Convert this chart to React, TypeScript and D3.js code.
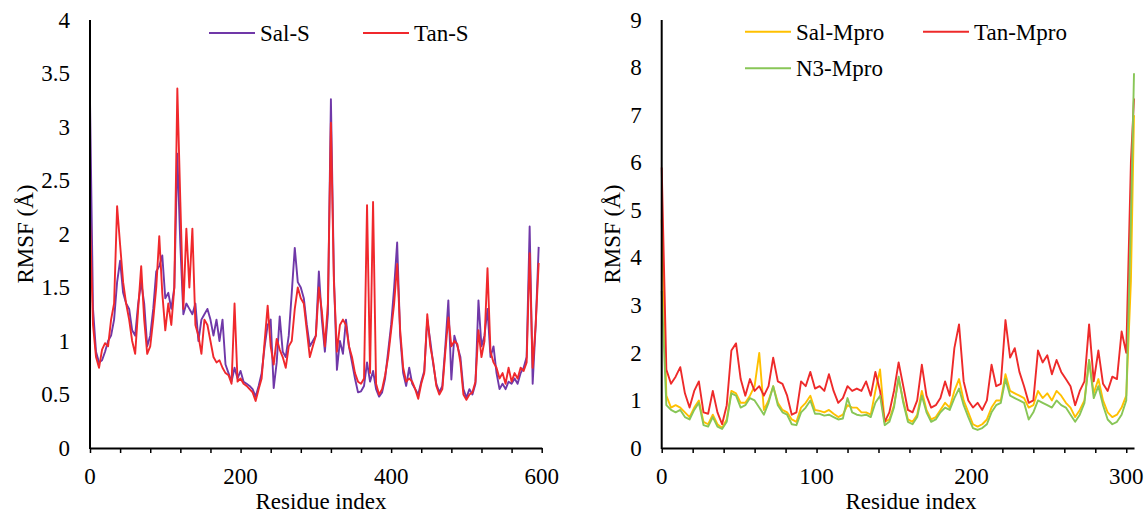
import { useEffect, useRef } from "react";
import * as d3 from "d3";

// ---- S protein panel (residue step of 4) ----
const sStep = 4;
const salS = [
  3.25, 1.3, 0.9, 0.8, 0.82, 0.9, 1.0, 1.05, 1.2, 1.55,
  1.75, 1.45, 1.35, 1.3, 1.1, 1.05, 1.35, 1.55, 1.35, 0.95,
  1.05, 1.3, 1.65, 1.7, 1.8, 1.4, 1.45, 1.3, 1.5, 2.75,
  1.9, 1.25, 1.35, 1.3, 1.25, 1.35, 1.0, 1.2, 1.25, 1.3,
  1.2, 1.05, 1.2, 1.0, 1.2, 0.78, 0.7, 0.62, 0.75, 0.65,
  0.72, 0.62, 0.6, 0.58, 0.55, 0.48, 0.58, 0.7, 0.95, 1.15,
  1.2, 0.56, 0.8, 1.23, 0.9, 0.85, 1.05, 1.45, 1.87, 1.55,
  1.5, 1.4, 1.15, 0.95, 1.0, 1.05, 1.65, 1.2, 0.9, 1.25,
  3.26, 1.6, 0.73, 1.0, 0.88, 1.2, 0.95, 0.8, 0.65, 0.52,
  0.53, 0.58, 0.8, 0.62, 0.72, 0.55, 0.48, 0.52, 0.65, 0.9,
  1.15, 1.5, 1.92, 1.05, 0.7, 0.58, 0.75, 0.6, 0.55, 0.5,
  0.62, 0.72, 1.2, 1.0, 0.78, 0.6, 0.52, 0.58, 0.95, 1.38,
  0.64, 1.05, 0.95, 0.85, 0.55, 0.47, 0.55, 0.5, 0.6, 1.38,
  0.95, 1.05, 1.3, 0.85, 0.95, 0.7, 0.55, 0.6, 0.55, 0.62,
  0.6, 0.65, 0.6, 0.7, 0.75, 0.85, 2.07, 0.6, 1.15, 1.88,
];
const tanS = [
  2.15, 1.15, 0.85, 0.75, 0.92, 0.98, 0.95, 1.2, 1.35, 2.26,
  1.9, 1.55, 1.35, 1.2, 1.0, 0.88, 1.3, 1.7, 1.2, 0.88,
  0.95, 1.2, 1.5, 1.98, 1.45, 1.1, 1.35, 1.15, 1.5, 3.36,
  2.3, 1.3, 2.05, 1.5, 2.05, 1.15, 1.05, 0.88, 1.2, 1.15,
  1.0, 0.85, 0.8, 0.82, 0.75, 0.7, 0.68, 0.6, 1.35, 0.62,
  0.65, 0.6, 0.58, 0.55, 0.52, 0.44, 0.55, 0.65, 1.0, 1.33,
  0.95, 0.78, 1.02, 0.92, 0.85, 0.75, 0.95, 1.0, 1.3, 1.5,
  1.4, 1.35, 1.1, 0.85, 0.95, 1.05, 1.5, 1.28, 0.95, 1.35,
  3.04, 1.55, 0.9, 1.15, 1.2, 1.15, 0.95, 0.85, 0.7, 0.62,
  0.6, 0.65, 2.27, 0.7, 2.3, 0.6, 0.5, 0.55, 0.68, 0.85,
  1.1, 1.35, 1.72, 1.1, 0.75, 0.62, 0.65, 0.62, 0.55, 0.46,
  0.6, 0.7, 1.25, 0.95, 0.8, 0.58, 0.5, 0.55, 0.9, 1.22,
  0.95, 1.0, 0.97, 0.8, 0.5, 0.45, 0.5, 0.52, 0.62, 1.1,
  0.85, 1.0, 1.68, 0.9, 0.8, 0.75, 0.65, 0.7, 0.6, 0.75,
  0.62, 0.7, 0.65, 0.75, 0.72, 0.8, 1.82, 0.75, 1.15, 1.73,
];
const sYTicks = [0, 0.5, 1, 1.5, 2, 2.5, 3, 3.5, 4];
const sXTicks = [0, 200, 400, 600];

// ---- Mpro panel (residue step of 3, last residue 305) ----
const mproResidues = d3.range(0, 304, 3).concat([305]);
const salMpro = [
  4.8, 1.1, 0.85, 0.9, 0.85, 0.75, 0.65, 0.85, 1.0, 0.55,
  0.5, 0.7, 0.5, 0.42, 0.6, 1.2, 1.15, 0.95, 0.95, 1.1,
  1.3, 2.0, 0.8, 1.0, 1.3, 0.95, 0.8, 0.75, 0.6, 0.55,
  0.85, 0.95, 1.1, 0.8, 0.78, 0.75, 0.8, 0.72, 0.65, 0.7,
  0.9, 0.85, 0.85, 0.75, 0.75, 0.7, 1.2, 1.65, 0.55, 0.6,
  0.9, 1.45, 1.0, 0.6, 0.55, 0.7, 1.2, 0.8, 0.6, 0.65,
  0.8, 0.95, 0.85, 1.2, 1.45, 1.0, 0.75, 0.5, 0.45, 0.5,
  0.6, 0.85, 1.0, 1.0, 1.55, 1.2, 1.15, 1.1, 1.05, 0.85,
  0.9, 1.2, 1.05, 1.15, 1.0, 1.2, 1.1, 0.95, 0.85, 0.65,
  0.8, 1.0, 1.85, 1.15, 1.45, 1.0, 0.75, 0.65, 0.7, 0.85,
  1.1, 3.5, 7.0,
];
const tanMpro = [
  5.9, 1.65, 1.35, 1.5, 1.7, 1.15, 0.85, 1.2, 1.4, 0.75,
  0.72, 1.2, 0.75, 0.5, 0.9, 2.05, 2.2, 1.45, 1.1, 1.45,
  1.2, 1.3, 1.1, 1.3, 1.9, 1.4, 1.35, 1.1, 0.7, 0.75,
  1.4, 1.3, 1.6, 1.25, 1.3, 1.2, 1.55, 1.2, 0.95, 1.05,
  1.3, 1.2, 1.25, 1.2, 1.4, 1.1, 1.6, 1.2, 0.55, 0.75,
  1.2, 1.8, 1.3, 0.8, 0.75, 1.0, 1.75, 1.1, 0.85, 0.9,
  1.05, 1.4, 1.1, 2.1, 2.6, 1.4, 1.0, 0.85, 0.95, 0.8,
  1.0, 1.75, 1.3, 1.35, 2.69, 1.9, 2.1, 1.6, 1.3, 0.95,
  1.0, 2.05, 1.8, 1.95, 1.55, 1.85, 1.6, 1.45, 1.3, 0.9,
  1.2, 1.4, 2.6, 1.4, 2.05, 1.35, 1.2, 1.5, 1.45, 2.45,
  2.0, 6.0, 7.35,
];
const n3Mpro = [
  3.3, 0.9, 0.8, 0.75, 0.8, 0.65, 0.6, 0.8, 0.95, 0.48,
  0.45, 0.65, 0.45, 0.4, 0.55, 1.15, 1.1, 0.85, 0.9, 1.05,
  1.0, 0.85, 0.7, 0.95, 1.3, 0.9, 0.75, 0.7, 0.5, 0.48,
  0.75, 0.85, 1.0, 0.72, 0.72, 0.68, 0.7, 0.65, 0.6, 0.62,
  1.05, 0.75, 0.7, 0.68, 0.7, 0.65, 0.95, 1.1, 0.48, 0.55,
  0.85, 1.5, 0.95, 0.55, 0.5, 0.65, 1.1, 0.75, 0.55, 0.6,
  0.75, 0.85, 0.8, 1.05, 1.25, 0.9, 0.65, 0.42, 0.38, 0.42,
  0.5, 0.75, 0.9, 0.95, 1.45, 1.1, 1.05, 1.0, 0.95, 0.6,
  0.75, 1.0, 0.95, 0.9, 0.85, 1.0, 0.9, 0.85, 0.7, 0.55,
  0.7, 0.95, 1.85, 1.05, 1.3, 0.9, 0.6, 0.5, 0.55, 0.7,
  1.0, 4.8, 7.88,
];
const mYTicks = [0, 1, 2, 3, 4, 5, 6, 7, 8, 9];
const mXTicks = [0, 100, 200, 300];

const FONT = "Liberation Serif, DejaVu Serif, serif";

export default function App() {
  const svgRef = useRef(null);

  useEffect(() => {
    const svg = d3.select(svgRef.current);
    svg.selectAll("*").remove();

    function drawPanel(cfg) {
      const x = d3.scaleLinear().domain(cfg.xDomain).range(cfg.xRange);
      const y = d3.scaleLinear().domain(cfg.yDomain).range([448, 20]);
      const g = svg.append("g").style("font-family", FONT);

      // lines
      const line = d3.line()
        .x((d) => x(d[0]))
        .y((d) => y(d[1]));
      cfg.series.forEach((s) => {
        g.append("path")
          .datum(s.xs.map((r, i) => [r, s.values[i]]))
          .attr("fill", "none")
          .attr("stroke", s.color)
          .attr("stroke-width", 1.9)
          .attr("stroke-linejoin", "round")
          .attr("d", line);
      });

      // x axis: line + outward minor ticks
      const xAxis = d3.axisBottom(x)
        .tickValues(cfg.minorTicks)
        .tickSize(5)
        .tickSizeOuter(0)
        .tickFormat(() => "");
      const xg = g.append("g").attr("transform", `translate(0,${y(0)})`).call(xAxis);
      xg.select(".domain").attr("stroke", "#000").attr("stroke-width", 2);
      xg.selectAll(".tick line").attr("stroke", "#000").attr("stroke-width", 1.5);

      // y axis line (no ticks)
      g.append("line")
        .attr("x1", x(0)).attr("x2", x(0))
        .attr("y1", y(cfg.yDomain[1])).attr("y2", y(0) + 1)
        .attr("stroke", "#000").attr("stroke-width", 2);

      g.selectAll(".ylab")
        .data(cfg.yTicks)
        .join("text")
        .attr("x", x(0) - 20)
        .attr("y", (d) => y(d) + 7.7)
        .attr("text-anchor", "end")
        .style("font-family", FONT)
        .attr("font-size", 23)
        .text((d) => String(d));

      g.selectAll(".xlab")
        .data(cfg.xTicks)
        .join("text")
        .attr("x", (d) => x(d))
        .attr("y", 484)
        .attr("text-anchor", "middle")
        .style("font-family", FONT)
        .attr("font-size", 23)
        .text((d) => String(d));

      g.append("text")
        .attr("x", cfg.xTitleX)
        .attr("y", 508.5)
        .attr("text-anchor", "middle")
        .style("font-family", FONT)
        .attr("font-size", 23)
        .text("Residue index");

      g.append("text")
        .attr("transform", `translate(${cfg.yTitleX},234) rotate(-90)`)
        .attr("dy", "0.35em")
        .attr("text-anchor", "middle")
        .style("font-family", FONT)
        .attr("font-size", 23)
        .text("RMSF (Å)");

      // legend
      cfg.legend.forEach((l) => {
        g.append("line")
          .attr("x1", l.x).attr("x2", l.x + 46)
          .attr("y1", l.y).attr("y2", l.y)
          .attr("stroke", l.color).attr("stroke-width", 2);
        g.append("text")
          .attr("x", l.x + 51)
          .attr("y", l.y + 7.8)
          .style("font-family", FONT)
          .attr("font-size", 23)
          .text(l.label);
      });
    }

    const sResidues = salS.map((_, i) => i * sStep);

    drawPanel({
      xDomain: [0, 600],
      xRange: [90, 541.7],
      yDomain: [0, 4],
      minorTicks: d3.range(0, 601, 40),
      xTicks: sXTicks,
      yTicks: sYTicks,
      xTitleX: 321,
      yTitleX: 25,
      series: [
        { xs: sResidues, values: salS, color: "#7038A8" },
        { xs: sResidues, values: tanS, color: "#F0282C" },
      ],
      legend: [
        { x: 209, y: 33, color: "#7038A8", label: "Sal-S" },
        { x: 363, y: 33, color: "#F0282C", label: "Tan-S" },
      ],
    });

    drawPanel({
      xDomain: [0, 305],
      xRange: [661.7, 1134],
      yDomain: [0, 9],
      minorTicks: d3.range(0, 301, 20),
      xTicks: mXTicks,
      yTicks: mYTicks,
      xTitleX: 911,
      yTitleX: 612,
      series: [
        { xs: mproResidues, values: salMpro, color: "#FFC000" },
        { xs: mproResidues, values: tanMpro, color: "#EE2A2A" },
        { xs: mproResidues, values: n3Mpro, color: "#88C657" },
      ],
      legend: [
        { x: 745, y: 31.7, color: "#FFC000", label: "Sal-Mpro" },
        { x: 923, y: 31.7, color: "#EE2A2A", label: "Tan-Mpro" },
        { x: 745, y: 68.3, color: "#88C657", label: "N3-Mpro" },
      ],
    });
  }, []);

  return (
    <svg
      ref={svgRef}
      width={1145}
      height={513}
      style={{ position: "absolute", left: 0, top: 0, background: "#fff" }}
    />
  );
}
